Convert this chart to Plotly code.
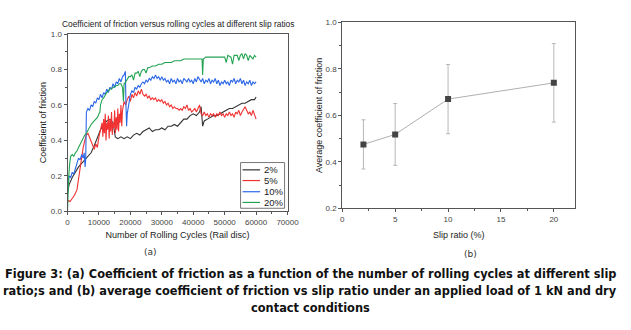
import plotly.graph_objects as go

# ---------------- data: panel (a) ----------------
x_2 = [0, 500, 1500, 2500, 3500, 4500, 5500, 6500, 7500, 8500, 9500, 10500, 11500, 12500, 13500,
       14500, 15200, 16000, 17000, 18000, 19000, 20000, 21000, 22000, 23000, 24000, 25000, 26000,
       27000, 28000, 29000, 30000, 31000, 32000, 33000, 34000, 35000, 36000, 37000, 38000, 39000,
       40000, 41000, 42000, 42500, 43000, 43500, 44500, 45500, 46500, 47500, 48500, 49500, 50500,
       51500, 52500, 53500, 54500, 55500, 56500, 57500, 58500, 59500, 60000]
y_2 = [0.10, 0.15, 0.19, 0.22, 0.25, 0.27, 0.29, 0.31, 0.33, 0.37, 0.42, 0.46, 0.49, 0.51, 0.52,
       0.50, 0.42, 0.41, 0.42, 0.41, 0.42, 0.41, 0.43, 0.44, 0.43, 0.45, 0.46, 0.47, 0.45, 0.46,
       0.46, 0.47, 0.46, 0.48, 0.48, 0.49, 0.48, 0.50, 0.52, 0.52, 0.54, 0.55, 0.54, 0.56, 0.59,
       0.48, 0.51, 0.52, 0.53, 0.54, 0.54, 0.55, 0.56, 0.57, 0.58, 0.58, 0.59, 0.60, 0.61, 0.61,
       0.62, 0.63, 0.63, 0.645]

x_5 = [0, 300, 800, 1500, 2200, 3000, 3500, 4000, 4500, 5000, 5500, 6000, 6500, 7000, 7500, 8000,
       8500, 9000, 9500, 10000, 10500,
       11000, 11250, 11500, 11750, 12000, 12250, 12500, 12750, 13000, 13250, 13500, 13750, 14000,
       14250, 14500, 14750, 15000, 15250, 15500, 15750, 16000, 16250, 16500, 16750, 17000, 17250,
       17500,
       18000, 18500, 19000, 19500, 20000, 20500, 21000, 21500, 22000, 22500, 23000, 23500, 24000,
       24500, 25000, 25500, 26000, 26500, 27000, 27500, 28000, 28500, 29000, 29500, 30000, 30500,
       31000, 31500, 32000, 32500, 33000, 33500, 34000, 34500, 35000, 35500, 36000, 36500, 37000,
       37500, 38000, 38500, 39000, 39500, 40000, 40500, 41000, 41500, 42000, 42500, 43000, 43500,
       44000, 44500, 45000, 45500, 46000, 46500, 47000, 47500, 48000, 48500, 49000, 49500, 50000,
       50500, 51000, 51500, 52000, 52500, 53000, 53500, 54000, 54500, 55000, 55500, 56000, 56500,
       57000, 57500, 58000, 58500, 59000, 59500, 60000]
y_5 = [0.05, 0.06, 0.055, 0.07, 0.09, 0.12, 0.18, 0.25, 0.30, 0.36, 0.40, 0.43, 0.44, 0.42, 0.39,
       0.37, 0.35, 0.38, 0.36, 0.42, 0.47,
       0.50, 0.42, 0.52, 0.44, 0.55, 0.40, 0.50, 0.46, 0.54, 0.41, 0.52, 0.45, 0.56, 0.43, 0.50,
       0.47, 0.57, 0.44, 0.53, 0.46, 0.58, 0.45, 0.55, 0.50, 0.60, 0.48, 0.57,
       0.62, 0.60, 0.63, 0.65, 0.62, 0.66, 0.64, 0.67, 0.65, 0.68, 0.66, 0.69, 0.66, 0.65, 0.66,
       0.64, 0.65, 0.63, 0.64, 0.63, 0.64, 0.62, 0.63, 0.62, 0.63, 0.61, 0.62, 0.60, 0.61, 0.59,
       0.60, 0.58, 0.59, 0.58, 0.58, 0.57, 0.58, 0.57, 0.59, 0.58, 0.60, 0.57, 0.58, 0.56, 0.57,
       0.58, 0.56, 0.58, 0.60, 0.55, 0.54, 0.56, 0.54, 0.55, 0.53, 0.55, 0.54, 0.55, 0.53, 0.55,
       0.54, 0.56, 0.54, 0.55, 0.53, 0.55, 0.54, 0.56, 0.54, 0.55, 0.53, 0.56, 0.55, 0.57, 0.54,
       0.56, 0.58, 0.59, 0.57, 0.55, 0.56, 0.54, 0.57, 0.55, 0.52]

x_10 = [0, 200, 500, 1000, 1500, 2000, 2500, 3000, 3500, 4000, 4500, 5000, 5300, 5600, 5800,
        6000, 6500, 7000, 7500, 8000, 8500, 9000, 9500, 10000, 10500, 11000, 11500, 12000, 12500,
        13000, 13500, 14000, 14500, 15000, 15500, 16000, 16500, 17000, 17500, 18000, 18400, 18600,
        18800, 19000, 19500, 20000, 20500, 21000, 21500, 22000, 22500, 23000, 23500, 24000, 24500,
        25000, 25500, 26000, 26500, 27000, 27500, 28000, 28500, 29000, 29500, 30000, 30500, 31000,
        31500, 32000, 32500, 33000, 33500, 34000, 34500, 35000, 35500, 36000, 36500, 37000, 37500,
        38000, 38500, 39000, 39500, 40000, 40500, 41000, 41500, 42000, 42500, 43000, 43500, 44000,
        44500, 45000, 45500, 46000, 46500, 47000, 47500, 48000, 48500, 49000, 49500, 50000, 50500,
        51000, 51500, 52000, 52500, 53000, 53500, 54000, 54500, 55000, 55500, 56000, 56500, 57000,
        57500, 58000, 58500, 59000, 59500, 60000]
y_10 = [0.10, 0.17, 0.20, 0.19, 0.22, 0.21, 0.24, 0.27, 0.30, 0.29, 0.32, 0.30, 0.33, 0.25, 0.30,
        0.56, 0.58, 0.57, 0.60, 0.59, 0.62, 0.61, 0.64, 0.63, 0.66, 0.64, 0.67, 0.66, 0.69, 0.67,
        0.70, 0.69, 0.72, 0.70, 0.73, 0.72, 0.75, 0.73, 0.76, 0.77, 0.79, 0.60, 0.48, 0.55, 0.62,
        0.66, 0.68, 0.67, 0.70, 0.69, 0.71, 0.70, 0.72, 0.73, 0.72, 0.74, 0.73, 0.75, 0.74, 0.76,
        0.75, 0.77, 0.75, 0.76, 0.74, 0.76, 0.74, 0.75, 0.73, 0.74, 0.72, 0.75, 0.73, 0.74, 0.72,
        0.75, 0.73, 0.74, 0.72, 0.75, 0.74, 0.73, 0.75, 0.73, 0.74, 0.72, 0.75, 0.73, 0.76, 0.74,
        0.73, 0.75, 0.72, 0.74, 0.73, 0.75, 0.72, 0.74, 0.73, 0.75, 0.72, 0.74, 0.71, 0.73, 0.72,
        0.74, 0.72, 0.73, 0.71, 0.74, 0.73, 0.75, 0.72, 0.74, 0.73, 0.75, 0.72, 0.74, 0.71, 0.73,
        0.72, 0.74, 0.71, 0.73, 0.72, 0.73]

x_20 = [0, 200, 400, 700, 1000, 1500, 2000, 2500, 3000, 3500, 4000, 4500, 5000, 5500, 6000, 6500,
        7000, 7500, 8000, 8500, 9000, 9500, 10000, 10300, 10500, 11000, 11500, 12000, 12500, 13000,
        13500, 14000, 14500, 15000, 15500, 16000, 16500, 17000, 17500, 17800, 18000, 18500, 19000,
        19500, 20000, 20500, 21000, 21500, 22000, 22500, 23000, 23500, 24000, 24500, 25000, 25500,
        26000, 27000, 28000, 29000, 30000, 31000, 32000, 33000, 34000, 35000, 36000, 37000, 38000,
        39000, 40000, 41000, 42000, 42800, 43000, 43200, 44000, 45000, 46000, 47000, 48000, 49000,
        50000, 50500, 51000, 52000, 52500, 53000, 54000, 54500, 55000, 55500, 56000, 56500, 57000,
        57500, 58000, 58500, 59000, 59500, 60000]
y_20 = [0.00, 0.12, 0.20, 0.27, 0.31, 0.32, 0.31, 0.33, 0.34, 0.36, 0.38, 0.40, 0.42, 0.43, 0.44,
        0.46, 0.47, 0.49, 0.50, 0.51, 0.52, 0.53, 0.55, 0.56, 0.60, 0.63, 0.64, 0.66, 0.67, 0.68,
        0.69, 0.69, 0.70, 0.70, 0.71, 0.71, 0.72, 0.72, 0.70, 0.62, 0.72, 0.73, 0.75, 0.76, 0.76,
        0.77, 0.74, 0.78, 0.78, 0.79, 0.76, 0.79, 0.80, 0.80, 0.78, 0.81, 0.81, 0.82, 0.82, 0.83,
        0.83, 0.84, 0.84, 0.84, 0.85, 0.85, 0.85, 0.86, 0.86, 0.86, 0.86, 0.86, 0.86, 0.86, 0.77,
        0.86, 0.87, 0.87, 0.87, 0.87, 0.87, 0.87, 0.87, 0.84, 0.88, 0.87, 0.83, 0.88, 0.88, 0.85,
        0.88, 0.89, 0.86, 0.89, 0.88, 0.85, 0.88, 0.87, 0.86, 0.88, 0.87]

series_names = ["2%", "5%", "10%", "20%"]
series_colors = ["#333333", "#f03232", "#2a66e6", "#22a352"]

# ---------------- data: panel (b) ----------------
slip_ratio = [2, 5, 10, 20]
avg_cof = [0.475, 0.518, 0.670, 0.740]
cof_err = [0.106, 0.133, 0.149, 0.169]

FONT = "Liberation Sans, Arial, sans-serif"
CAP_FONT = "DejaVu Sans, Verdana, sans-serif"

fig = go.Figure()
for xs, ys, nm, col in zip([x_2, x_5, x_10, x_20], [y_2, y_5, y_10, y_20], series_names, series_colors):
    fig.add_trace(go.Scatter(x=xs, y=ys, mode="lines", name=nm, showlegend=False,
                             line=dict(color=col, width=1.1), xaxis="x", yaxis="y"))

fig.add_trace(go.Scatter(x=slip_ratio, y=avg_cof, mode="lines+markers", showlegend=False,
                         line=dict(color="#9a9a9a", width=0.8),
                         marker=dict(symbol="square", size=6, color="#444444"),
                         error_y=dict(type="data", array=cof_err, color="#b0b0b0", thickness=0.9, width=2),
                         xaxis="x2", yaxis="y2"))

W, H = 631, 330
def px_x(p):
    return p / W
def px_y(p):
    return 1 - p / H

axis_common = dict(showgrid=False, zeroline=False, showline=True, linecolor="#555555", linewidth=1,
                   mirror=True, ticks="outside", ticklen=3, tickcolor="#555555",
                   tickfont=dict(family=FONT, size=8, color="#444444"))

fig.update_layout(
    width=W, height=H, margin=dict(l=0, r=0, t=0, b=0),
    paper_bgcolor="white", plot_bgcolor="white",
    font=dict(family=FONT, color="#222222"),
    showlegend=False,
    xaxis=dict(domain=[px_x(67), px_x(292)], range=[0, 70000], dtick=10000, tickformat="d", anchor="y",
               minor=dict(ticks="outside", ticklen=2, dtick=5000, tickcolor="#555555"),
               title=dict(text="Number of Rolling Cycles (Rail disc)", standoff=5,
                          font=dict(family=FONT, size=9, color="#222222")),
               **axis_common),
    yaxis=dict(domain=[px_y(213), px_y(31)], range=[0, 1.0], dtick=0.2, tickformat=".1f", anchor="x",
               minor=dict(ticks="outside", ticklen=2, dtick=0.1, tickcolor="#555555"),
               title=dict(text="Coefficient of friction", standoff=2,
                          font=dict(family=FONT, size=9, color="#222222")),
               **axis_common),
    xaxis2=dict(domain=[px_x(348), px_x(586)], range=[0, 22], dtick=5, anchor="y2",
                minor=dict(ticks="outside", ticklen=2, dtick=2.5, tickcolor="#555555"),
                title=dict(text="Slip ratio (%)", standoff=8,
                           font=dict(family=FONT, size=9, color="#222222")),
                **axis_common),
    yaxis2=dict(domain=[px_y(210), px_y(19)], range=[0.2, 1.0], dtick=0.2, tickformat=".1f", anchor="x2",
                minor=dict(ticks="outside", ticklen=2, dtick=0.1, tickcolor="#555555"),
                title=dict(text="Average coefficient of friction", standoff=1,
                           font=dict(family=FONT, size=9, color="#222222")),
                **axis_common),
)

# legend box drawn in the lower-right corner of panel (a)
shapes = [dict(type="rect", xref="paper", yref="paper",
               x0=px_x(244), x1=px_x(289), y0=px_y(210), y1=px_y(163),
               line=dict(color="#777777", width=1), fillcolor="white", layer="above")]
legend_rows = [170.5, 181.5, 193, 204]
annotations = []
for nm, col, ry in zip(series_names, series_colors, legend_rows):
    shapes.append(dict(type="line", xref="paper", yref="paper",
                       x0=px_x(246), x1=px_x(264), y0=px_y(ry), y1=px_y(ry),
                       line=dict(color=col, width=1.2), layer="above"))
    annotations.append(dict(text=nm, x=px_x(265.5), y=px_y(ry), xanchor="left",
                            font=dict(family=FONT, size=9.5, color="#222222")))

annotations += [
    dict(text="Coefficient of friction versus rolling cycles at different slip ratios",
         x=px_x(180), y=px_y(21), font=dict(family=FONT, size=8.4, color="#222222")),
    dict(text="(a)", x=px_x(152), y=px_y(255), font=dict(family=CAP_FONT, size=9, color="#333333")),
    dict(text="(b)", x=px_x(479), y=px_y(257), font=dict(family=CAP_FONT, size=9, color="#333333")),
    dict(text="<b>Figure 3: (a) Coefficient of friction as a function of the number of rolling cycles at different slip</b>",
         x=px_x(315), y=px_y(278), font=dict(family=CAP_FONT, size=11.4, color="#111111")),
    dict(text="<b>ratio;s and (b) average coefficient of friction vs slip ratio under an applied load of 1 kN and dry</b>",
         x=px_x(315), y=px_y(295), font=dict(family=CAP_FONT, size=11.4, color="#111111")),
    dict(text="<b>contact conditions</b>",
         x=px_x(315), y=px_y(313), font=dict(family=CAP_FONT, size=11.4, color="#111111")),
]
for a in annotations:
    a.setdefault("xanchor", "center")
    a.update(xref="paper", yref="paper", showarrow=False, yanchor="middle")
fig.update_layout(annotations=annotations, shapes=shapes)

fig.write_html("out.html", config={"displayModeBar": False},
               post_script="document.body.style.margin='0';document.body.style.overflow='hidden';")
